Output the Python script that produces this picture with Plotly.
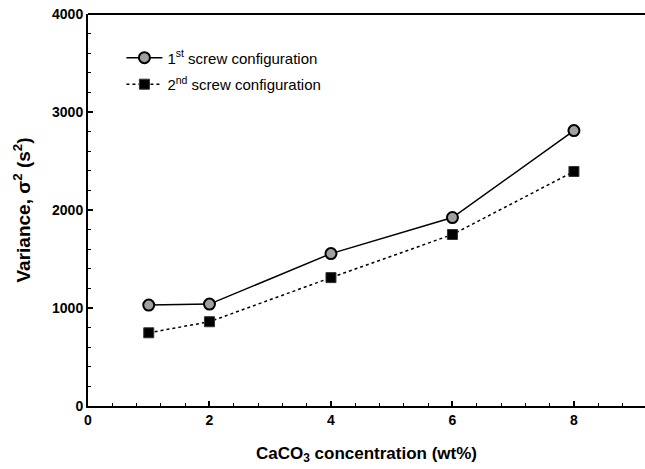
import plotly.graph_objects as go

conc = [1, 2, 4, 6, 8]
var_1st = [1030, 1040, 1555, 1923, 2810]
var_2nd = [747, 860, 1310, 1750, 2393]
x_ticks = [0, 2, 4, 6, 8]
y_ticks = [0, 1000, 2000, 3000, 4000]

FAM = "Liberation Sans, Arial, sans-serif"

fig = go.Figure()
fig.add_trace(go.Scatter(
    x=conc, y=var_1st, mode="lines+markers",
    name="1<sup>st</sup> screw configuration", legendgroup="a",
    line=dict(color="black", width=1.5),
    marker=dict(symbol="circle", size=11, color="#a0a0a0", line=dict(color="black", width=2)),
))
fig.add_trace(go.Scatter(
    x=conc, y=var_2nd, mode="lines+markers",
    name="2<sup>nd</sup> screw configuration", legendgroup="b",
    line=dict(color="black", width=1.5, dash="dot"),
    marker=dict(symbol="square", size=10, color="black", line=dict(color="#333", width=1)),
))

font_axis = dict(family=FAM, size=14, color="black")
fig.update_layout(
    width=645, height=469,
    margin=dict(l=88, r=0, t=14, b=63),
    paper_bgcolor="white", plot_bgcolor="white",
    showlegend=True,
    legend=dict(x=0.06, y=0.93, xanchor="left", yanchor="top",
                font=dict(family=FAM, size=15, color="black"),
                bgcolor="rgba(0,0,0,0)", tracegroupgap=4, itemwidth=36),
    font=dict(family=FAM, color="black"),
    shapes=[dict(type="line", xref="paper", yref="paper", x0=0, x1=1, y0=1, y1=1,
                 line=dict(color="black", width=2))],
)
fig.update_xaxes(
    range=[0, 9.17], tickvals=x_ticks, ticktext=[f"<b>{v}</b>" for v in x_ticks],
    showgrid=False, zeroline=False, showline=True, linecolor="black", linewidth=2,
    ticks="inside", ticklen=5, tickwidth=1.5, tickcolor="black",
    minor=dict(dtick=0.4, tick0=0, ticks="inside", ticklen=3, tickwidth=1, tickcolor="black"),
    tickfont=font_axis,
    title=dict(text="<b>CaCO<sub>3</sub> concentration (wt%)</b>",
               font=dict(family=FAM, size=17, color="black"),
               standoff=20),
)
fig.update_yaxes(
    range=[0, 4000], tickvals=y_ticks, ticktext=[f"<b>{v}</b>" for v in y_ticks],
    showgrid=False, zeroline=False, showline=True, linecolor="black", linewidth=2,
    ticks="inside", ticklen=5, tickwidth=1.5, tickcolor="black",
    minor=dict(dtick=200, tick0=0, ticks="inside", ticklen=3, tickwidth=1, tickcolor="black"),
    tickfont=font_axis,
    title=dict(text="<b>Variance, σ<sup>2</sup> (s<sup>2</sup>)</b>",
               font=dict(family=FAM, size=19, color="black"),
               standoff=16),
)
fig.write_html("out.html")
